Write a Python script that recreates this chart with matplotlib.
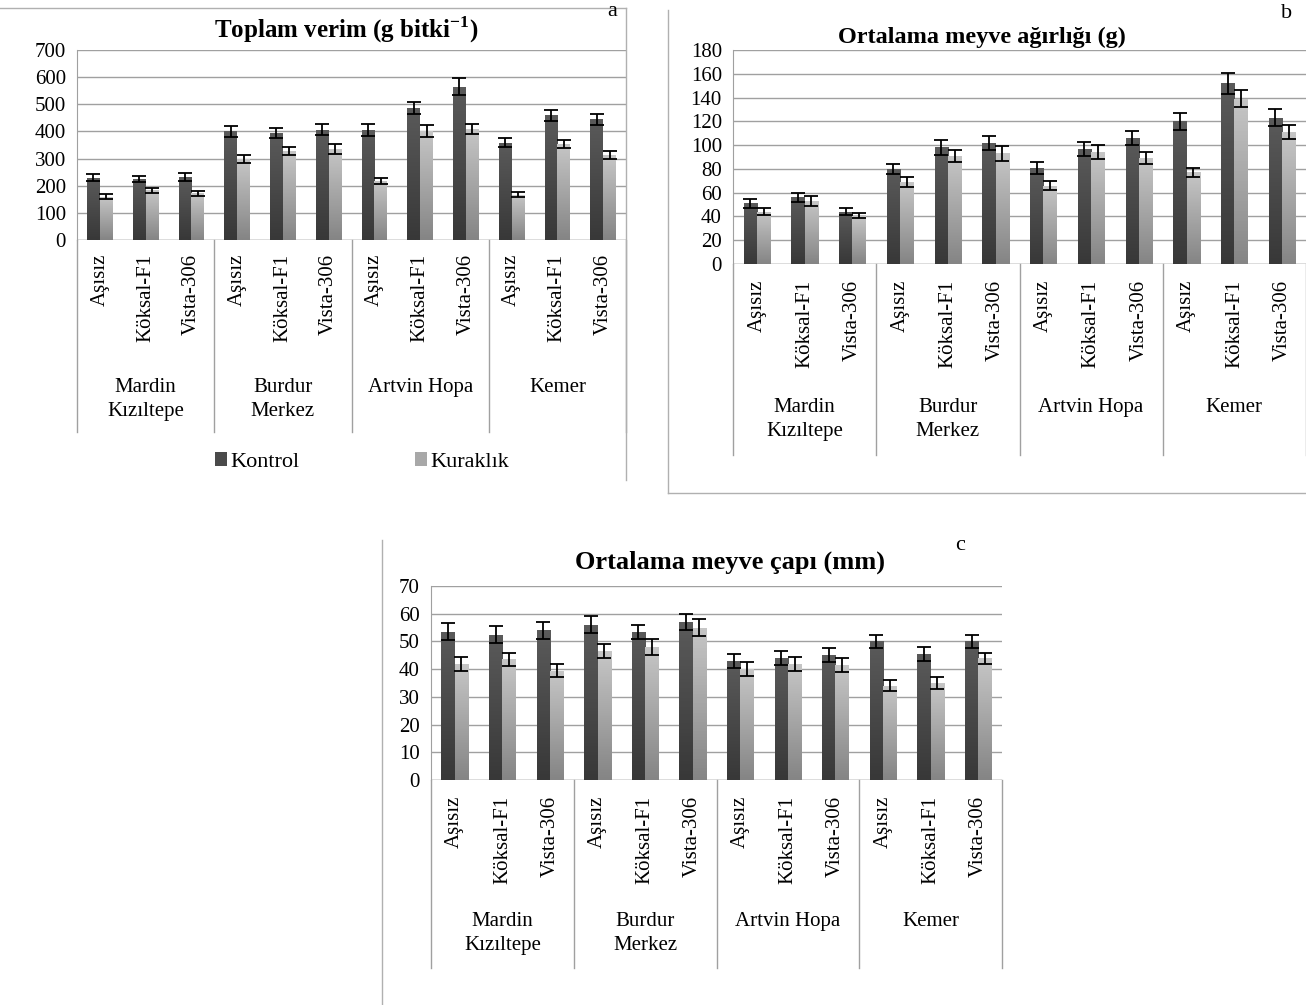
import numpy as np
import matplotlib
matplotlib.use("Agg")
import matplotlib.pyplot as plt
from matplotlib.colors import LinearSegmentedColormap
from matplotlib.transforms import blended_transform_factory
from matplotlib.patches import Patch

plt.rcParams['font.family'] = ['Liberation Serif', 'DejaVu Serif']

# data
sites = ["Mardin\nKızıltepe", "Burdur\nMerkez", "Artvin Hopa", "Kemer"]
rootstocks = ["Aşısız", "Köksal-F1", "Vista-306"]
series = ["Kontrol", "Kuraklık"]

verim_k = [230, 225, 232, 400, 393, 407, 405, 488, 565, 358, 460, 445]
verim_k_err = [12, 12, 15, 20, 18, 20, 22, 22, 30, 16, 20, 20]
verim_d = [160, 183, 172, 297, 328, 336, 218, 402, 410, 167, 355, 312]
verim_d_err = [10, 10, 10, 15, 15, 18, 10, 22, 18, 10, 15, 15]

agirlik_k = [51, 56, 44, 80, 98, 102, 81, 97, 106, 120, 152, 123]
agirlik_k_err = [4, 4, 3, 4, 6, 6, 5, 6, 6, 7, 9, 7]
agirlik_d = [44, 53, 41, 69, 91, 93, 66, 94, 89, 77, 139, 111]
agirlik_d_err = [3, 4, 2, 4, 5, 6, 4, 6, 5, 4, 7, 6]

cap_k = [53.5, 52.5, 54, 56, 53.5, 57, 43, 44, 45, 50, 45.5, 50]
cap_k_err = [3, 3, 3, 3, 2.5, 3, 2.5, 2.5, 2.5, 2.5, 2.5, 2.5]
cap_d = [42, 43.5, 39.5, 46.5, 48, 55, 40, 42, 41.5, 34, 35, 44]
cap_d_err = [2.5, 2.5, 2.5, 2.5, 3, 3, 2.5, 2.5, 2.5, 2, 2, 2]

W, H = 1306, 1005
fig = plt.figure(figsize=(W / 100, H / 100), dpi=100)

cm_dark = LinearSegmentedColormap.from_list("dk", ["#383838", "#5a5a5a"])
cm_light = LinearSegmentedColormap.from_list("lt", ["#858585", "#c6c6c6"])


def fy(y):
    return 1 - y / H


def panel(box, vals_k, err_k, vals_d, err_d, ymax, step, title, tsize, letter, letter_xy,
          title_xy, sub_top, grp_y, sep_bottom):
    left, top, right, bottom = box
    ax = fig.add_axes([left / W, fy(bottom), (right - left) / W, (bottom - top) / H])
    x = np.arange(len(vals_k))
    bw = 0.28
    for vals, err, cm, off in [(vals_k, err_k, cm_dark, -bw / 2), (vals_d, err_d, cm_light, bw / 2)]:
        bars = ax.bar(x + off, vals, bw, color="none", zorder=3)
        for b in bars:
            x0 = b.get_x()
            h = b.get_height()
            grad = np.linspace(1, 0, 50).reshape(-1, 1)
            im = ax.imshow(grad, extent=[x0, x0 + b.get_width(), 0, h], aspect="auto",
                           cmap=cm, vmin=0, vmax=1, zorder=3)
            im.set_clip_path(b)
        ax.errorbar(x + off, vals, yerr=err, fmt="none", ecolor="black",
                    elinewidth=1.3, capsize=5, capthick=1.3, zorder=4)
    ax.set_xlim(-0.5, len(vals_k) - 0.5)
    ax.set_ylim(0, ymax)
    ax.set_yticks(np.arange(0, ymax + 1, step))
    ax.yaxis.grid(True, color="#a0a0a0", linewidth=1)
    ax.set_axisbelow(True)
    ax.tick_params(axis="y", length=0, labelsize=15, pad=8)
    ax.set_xticks([])
    for s in ["top", "right", "bottom"]:
        ax.spines[s].set_visible(False)
    ax.spines["left"].set_color("#a0a0a0")
    ax.axhline(0, color="#a0a0a0", linewidth=1, zorder=2)

    tr = blended_transform_factory(ax.transData, fig.transFigure)
    for i in range(len(vals_k)):
        ax.text(i, fy(sub_top), rootstocks[i % 3], transform=tr, rotation=90,
                ha="center", va="top", fontsize=15)
    for g in range(len(sites)):
        ax.text(3 * g + 1, fy(grp_y), sites[g], transform=tr, ha="center",
                va="top", fontsize=15, linespacing=1.35)
    for g in range(len(sites) + 1):
        ax.plot([3 * g - 0.5, 3 * g - 0.5], [fy(bottom), fy(sep_bottom)], transform=tr,
                color="#a0a0a0", linewidth=1, clip_on=False)
    fig.text(title_xy[0] / W, fy(title_xy[1]), title, ha="center", va="center",
             fontsize=tsize, fontweight="bold")
    fig.text(letter_xy[0] / W, fy(letter_xy[1]), letter, ha="center", va="center", fontsize=16)
    return ax


panel((77, 50, 626, 240), verim_k, verim_k_err, verim_d, verim_d_err, 700, 100,
      "Toplam verim (g bitki$^{\\mathregular{-1}}$)", 18, "a", (612, 12), (346, 30), 254, 378, 432)
panel((733, 50, 1306, 264), agirlik_k, agirlik_k_err, agirlik_d, agirlik_d_err, 180, 20,
      "Ortalama meyve ağırlığı (g)", 17.5, "b", (1287, 14), (982, 37), 280, 398, 455)
panel((431, 586, 1002, 780), cap_k, cap_k_err, cap_d, cap_d_err, 70, 10,
      "Ortalama meyve çapı (mm)", 19, "c", (960, 545), (730, 562), 796, 912, 968)

# legend for panel a
handles = [Patch(facecolor="#4a4a4a"), Patch(facecolor="#a8a8a8")]
fig.legend(handles, series, loc="center", bbox_to_anchor=(362 / W, fy(462)), ncol=2,
           frameon=False, fontsize=16, handlelength=0.55, handleheight=0.55,
           handletextpad=0.15, columnspacing=5.2)

# chart frames (partially visible)
grey = "#b0b0b0"
fig.add_artist(plt.Line2D([0, 626 / W], [fy(8), fy(8)], color=grey, lw=1))
fig.add_artist(plt.Line2D([626 / W, 626 / W], [fy(8), fy(480)], color=grey, lw=1))
fig.add_artist(plt.Line2D([668 / W, 668 / W], [fy(10), fy(493)], color=grey, lw=1))
fig.add_artist(plt.Line2D([668 / W, 1 - 0.5 / W], [fy(493), fy(493)], color=grey, lw=1))
fig.add_artist(plt.Line2D([382 / W, 382 / W], [fy(540), fy(1005)], color=grey, lw=1))

fig.savefig("out.png", dpi=100)
